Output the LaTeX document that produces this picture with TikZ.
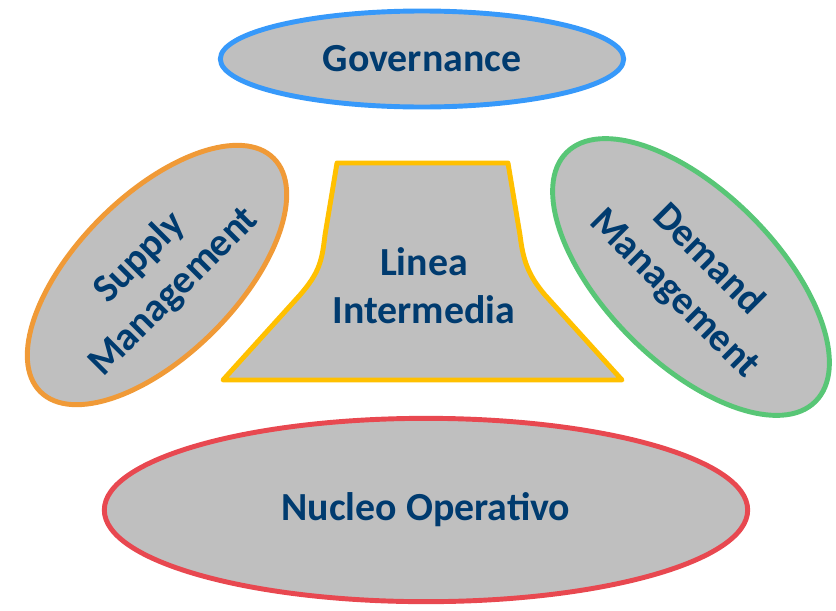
\documentclass[tikz,border=0pt]{standalone}
\usepackage{fontspec}
\setmainfont{Carlito}
\usetikzlibrary{shapes.geometric}
\definecolor{boxgray}{RGB}{191,191,191}
\definecolor{textblue}{RGB}{0,59,111}
\definecolor{govblue}{RGB}{55,153,250}
\definecolor{supplyorange}{RGB}{240,154,55}
\definecolor{demandgreen}{RGB}{88,198,118}
\definecolor{lineayellow}{RGB}{255,192,0}
\definecolor{nucleored}{RGB}{232,72,80}
\tikzset{
    part/.style = {ellipse, draw, fill=boxgray, line width=4.2pt, inner sep=0pt, align=center, text=textblue, font=\fontsize{34}{41}\selectfont\bfseries},
    partgov/.style = {part, draw=govblue, minimum width=12.1cm, minimum height=2.88cm},
    partsupply/.style = {part, draw=supplyorange, minimum width=9.9cm, minimum height=4.8cm, rotate=45},
    partdemand/.style = {part, draw=demandgreen, minimum width=10.56cm, minimum height=5.13cm, rotate=-45},
    partnucleo/.style = {part, draw=nucleored, minimum width=19.3cm, minimum height=5.5cm},
    linea/.style = {draw=lineayellow, fill=boxgray, line width=4.2pt, line join=round},
    lineatext/.style = {align=center, text=textblue, font=\fontsize{34}{41}\selectfont\bfseries}
}

\begin{document}
\begin{tikzpicture}[x=0.03cm,y=-0.03cm]
\useasboundingbox (0,0) rectangle (836,610);
\node[partgov] at (422,59) (gov) {Governance};
\node[partsupply] at (157,275) (supply) {Supply\\Management};
\node[partdemand] at (691,277) (demand) {Demand\\Management};
\node[partnucleo] at (426,510) (nucleo) {Nucleo Operativo};
%
\draw[linea] (223,380) -- (300,295) .. controls (320,272) and (322,260) .. (325,235)
    -- (337,163) -- (508,163) -- (520,235) .. controls (523,260) and (528,275) .. (545,295)
    -- (622,380) -- cycle;
\node[lineatext] at (424,286) (linea) {Linea\\Intermedia};
\end{tikzpicture}
\end{document}
